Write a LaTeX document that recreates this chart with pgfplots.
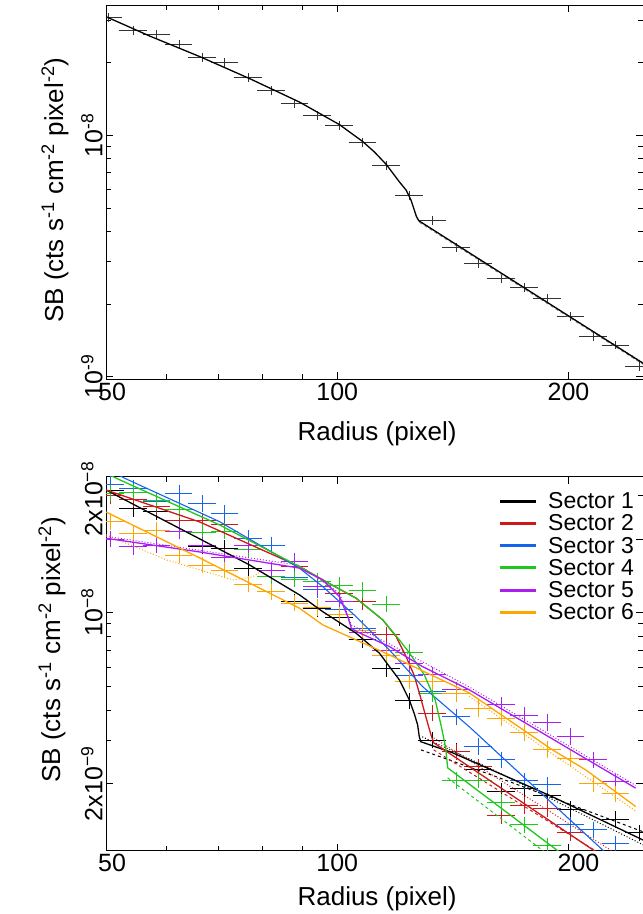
\documentclass[border=0pt]{standalone}
\usepackage{fontspec}
\setmainfont{Liberation Sans}
\usepackage{pgfplots}
\pgfplotsset{compat=1.18}
\definecolor{sred}{RGB}{205,25,25}
\definecolor{sblue}{RGB}{20,100,240}
\definecolor{sgreen}{RGB}{30,200,30}
\definecolor{spurple}{RGB}{170,30,240}
\definecolor{sorange}{RGB}{255,165,0}
\newcommand{\labfont}{\fontsize{26bp}{31bp}\selectfont}
\pgfplotsset{
  sbaxis/.style={
    scale only axis, width=537bp, height=374bp,
    xmin=50, xmax=250,
    xtick={50,100,200},
    minor xtick={60,70,80,90},
    tick align=inside,
    major tick length=7bp, minor tick length=5bp,
    tick style={black, line width=0.8bp},
    axis line style={line width=1bp},
    xticklabel style={font=\fontsize{25bp}{30bp}\selectfont},
    yticklabel style={font=\fontsize{25bp}{30bp}\selectfont, rotate=90, anchor=south},
    xlabel={Radius (pixel)},
    ylabel={SB (cts s\textsuperscript{-1} cm\textsuperscript{-2} pixel\textsuperscript{-2})},
  },
  ebars/.style 2 args={only marks, mark=text, text mark={}, forget plot, color=#1,
    error bars/.cd, x dir=both, x fixed relative=0.036, y dir=both, y fixed relative=#2,
    error mark=-,
    error bar style={line width=0.8bp, color=#1, solid},
    error mark options={mark size=1.8bp, line width=0.8bp, color=#1, solid}},
}
\begin{document}
\begin{tikzpicture}
\useasboundingbox (0,0) rectangle (643bp,-914bp);
%================ TOP PANEL
\begin{loglogaxis}[sbaxis,
  at={(106bp,-5bp)}, anchor=north west,
  ymin=9.78e-10, ymax=3.47e-8,
  xticklabels={\hspace{12bp}50,100,200},
  ytick={1e-9,1e-8},
  yticklabels={10\textsuperscript{-9},10\textsuperscript{-8}},
  minor ytick={2e-9,3e-9,4e-9,5e-9,6e-9,7e-9,8e-9,9e-9,2e-8,3e-8},
  every axis x label/.style={at={(axis description cs:0.5047,-0.1631)}, anchor=base, font=\labfont},
  every axis y label/.style={at={(axis description cs:-0.0801,0.505)}, rotate=90, anchor=base, font=\labfont},
]
\addplot[ebars={black!80}{0.025}] coordinates {
(50.35,3.07e-8) (54.26,2.731e-8) (58.18,2.628e-8) (62.21,2.382e-8)
(66.77,2.104e-8) (71.38,1.999e-8) (76.52,1.739e-8) (82.08,1.530e-8)
(87.99,1.354e-8) (94.17,1.206e-8) (100.67,1.103e-8) (107.94,9.32e-9)
(115.75,7.53e-9) (124.10,5.66e-9) (132.8,4.43e-9) (142.7,3.43e-9)
(152.5,2.95e-9) (163.6,2.556e-9) (175.0,2.337e-9) (187.6,2.113e-9)
(201.3,1.772e-9) (215.2,1.474e-9) (230.3,1.353e-9) (247.4,1.107e-9)};
\addplot[gray, dashed, line width=0.8bp, forget plot] coordinates {
(127.9,4.36e-9) (250,1.125e-9)};
\addplot[gray, dotted, line width=0.8bp, forget plot] coordinates {
(127.9,4.40e-9) (250,1.145e-9)};
\addplot[black, line width=1.3bp, forget plot] coordinates {
(50,3.105e-8) (57.03,2.579e-8) (66.23,2.121e-8) (76.91,1.719e-8)
(89.31,1.374e-8) (100.67,1.108e-8) (107.92,9.43e-9) (111.8,8.53e-9)
(115.85,7.57e-9) (120.45,6.42e-9) (122.93,5.93e-9) (124.7,5.40e-9)
(125.97,4.90e-9) (126.8,4.60e-9) (127.67,4.43e-9) (250,1.137e-9)};
\end{loglogaxis}
%================ BOTTOM PANEL
\begin{loglogaxis}[sbaxis,
  at={(106bp,-476.7bp)}, anchor=north west,
  ymin=1.065e-9, ymax=3.59e-8,
  xticklabels={\hspace{12bp}50,100,\hspace{20bp}200},
  ytick={2e-9,1e-8,2e-8},
  yticklabels={2x10\textsuperscript{−9},10\textsuperscript{−8},\hspace{80bp}2x10\textsuperscript{−8}},
  minor ytick={3e-9,4e-9,5e-9,6e-9,7e-9,8e-9,9e-9,3e-8},
  every axis x label/.style={at={(axis description cs:0.5047,-0.147)}, anchor=base, font=\labfont},
  every axis y label/.style={at={(axis description cs:-0.0857,0.537)}, rotate=90, anchor=base, font=\labfont},
  legend image code/.code={\draw[#1, line width=3bp] (0bp,0bp) -- (36bp,0bp);},
  legend cell align=left,
  legend style={draw=none, fill=none, at={(axis description cs:0.987,0.963)}, anchor=north east,
    font=\fontsize{23bp}{23bp}\selectfont, inner sep=0pt, row sep=0.6bp,
    /tikz/every odd column/.append style={column sep=8.3bp}},
]
% ---- data with error bars
\addplot[ebars={black}{0.06}] coordinates {
(50.6,3.17e-8) (54.26,2.67e-8) (58.18,2.58e-8) (62.21,2.39e-8) (66.77,1.87e-8)
(71.38,1.83e-8) (76.52,1.51e-8) (82.08,1.40e-8) (87.99,1.11e-8) (94.17,1.04e-8)
(100.67,9.54e-9) (107.94,7.74e-9) (115.75,5.93e-9) (124.10,4.36e-9) (132.8,3.02e-9)
(142.7,2.71e-9) (152.5,2.28e-9) (163.6,1.86e-9) (175.0,1.91e-9) (187.6,1.79e-9)
(201.3,1.57e-9) (215.2,1.30e-9) (230.3,1.43e-9) (247.4,1.26e-9)};
\addplot[ebars={sred}{0.06}] coordinates {
(50.6,3.0e-8) (54.26,2.91e-8) (58.18,2.71e-8) (62.21,2.39e-8) (66.77,2.37e-8)
(71.38,2.30e-8) (76.52,1.89e-8) (82.08,1.89e-8) (87.99,1.54e-8) (94.17,1.28e-8)
(100.67,1.20e-8) (107.94,1.11e-8) (115.75,8.11e-9) (124.10,6.22e-9) (132.8,3.89e-9)
(142.7,2.70e-9) (152.5,2.35e-9) (163.6,1.48e-9) (175.0,1.63e-9) (187.6,1.59e-9)
(201.3,1.26e-9)};
\addplot[ebars={sblue}{0.06}] coordinates {
(50.6,3.35e-8) (54.26,3.22e-8) (58.18,2.84e-8) (62.21,3.07e-8) (66.77,2.80e-8)
(71.38,2.545e-8) (76.52,2.01e-8) (82.08,1.89e-8) (87.99,1.39e-8) (94.17,1.24e-8)
(100.67,1.03e-8) (107.94,8.66e-9) (115.75,7.04e-9) (124.10,5.52e-9) (132.8,4.75e-9)
(142.7,3.76e-9) (152.5,2.84e-9) (163.6,2.51e-9) (175.0,2.06e-9) (187.6,1.98e-9)
(201.3,1.36e-9) (215.2,1.30e-9) (230.3,1.14e-9)};
\addplot[ebars={sgreen}{0.06}] coordinates {
(50.6,3.08e-8) (54.26,3.11e-8) (58.18,2.88e-8) (62.21,2.63e-8) (66.77,2.125e-8)
(71.38,2.156e-8) (76.52,1.82e-8) (82.08,1.40e-8) (87.99,1.373e-8) (94.17,1.347e-8)
(100.67,1.297e-8) (107.94,1.238e-8) (115.75,1.085e-8) (124.10,6.91e-9) (132.8,4.69e-9)
(142.7,2.065e-9) (152.5,2.07e-9) (163.6,1.68e-9) (175.0,1.36e-9) (187.6,1.116e-9)};
\addplot[ebars={spurple}{0.06}] coordinates {
(50.6,2.0e-8) (54.26,1.863e-8) (58.18,1.89e-8) (62.21,2.156e-8) (66.77,1.89e-8)
(71.38,1.68e-8) (76.52,1.89e-8) (82.08,1.494e-8) (87.99,1.626e-8) (94.17,1.277e-8)
(100.67,1.109e-8) (107.94,8.30e-9) (115.75,7.04e-9) (124.10,6.22e-9) (132.8,5.57e-9)
(142.7,4.84e-9) (152.5,4.07e-9) (163.6,4.20e-9) (175.0,3.82e-9) (187.6,3.56e-9)
(201.3,3.12e-9) (215.2,2.505e-9) (230.3,2.042e-9)};
\addplot[ebars={sorange}{0.06}] coordinates {
(50.6,2.351e-8) (54.26,2.109e-8) (58.18,2.176e-8) (62.21,1.72e-8) (66.77,1.565e-8)
(71.38,1.494e-8) (76.52,1.31e-8) (82.08,1.218e-8) (87.99,1.095e-8) (94.17,1.05e-8)
(100.67,9.79e-9) (107.94,8.50e-9) (115.75,6.66e-9) (124.10,5.26e-9) (132.8,5.24e-9)
(142.7,4.69e-9) (152.5,4.07e-9) (163.6,3.71e-9) (175.0,3.24e-9) (187.6,2.764e-9)
(201.3,2.544e-9) (215.2,2.0e-9) (230.3,1.82e-9)};
% ---- dashed / dotted model variants
\addplot[black, dashed, line width=1bp, forget plot] coordinates {(128.5,2.75e-9) (162.5,2.115e-9) (250,1.273e-9)};
\addplot[black, dotted, line width=1bp, forget plot] coordinates {(129.0,3.11e-9) (162.5,2.216e-9) (250,1.126e-9)};
\addplot[sred, dashed, line width=1bp, forget plot] coordinates {(133.5,2.75e-9) (212.6,1.106e-9) (230,9.47e-10)};
\addplot[sred, dotted, line width=1bp, forget plot] coordinates {(133.5,3.08e-9) (219.1,1.148e-9) (235,9.98e-10)};
\addplot[sgreen, dashed, line width=1bp, forget plot] coordinates {(139.2,2.115e-9) (186.7,1.045e-9) (200,8.85e-10)};
\addplot[spurple, dotted, line width=1bp, forget plot] coordinates {(50,2.05e-8) (89.31,1.56e-8) (100.67,1.20e-8) (104.3,8.9e-9) (116.9,7.45e-9) (148.5,4.97e-9) (244.5,1.97e-9)};
\addplot[sorange, dotted, line width=1bp, forget plot] coordinates {(50,2.08e-8) (59.95,1.641e-8) (73.2,1.36e-8) (77.6,1.40e-8) (79.5,1.47e-8)};
\addplot[sorange, dotted, line width=1bp, forget plot] coordinates {(148.5,4.55e-9) (190.5,2.65e-9) (244.5,1.55e-9)};
% ---- solid models
\addplot[black, line width=1.3bp, forget plot] coordinates {
(50,3.17e-8) (57.03,2.553e-8) (66.23,2.0e-8) (76.91,1.565e-8) (89.31,1.181e-8)
(95.74,1.009e-8) (105.8,8.24e-9) (113.45,6.83e-9) (120.45,5.31e-9) (124.10,4.40e-9)
(125.97,3.86e-9) (127.22,3.48e-9) (127.86,3.11e-9) (128.44,2.97e-9) (141.1,2.68e-9)
(190.3,1.774e-9) (250,1.178e-9)};
\addplot[sred, line width=1.3bp, forget plot] coordinates {
(50,3.17e-8) (66.23,2.345e-8) (89.31,1.541e-8) (95.74,1.360e-8) (105.8,1.145e-8)
(114.6,9.34e-9) (119.3,7.98e-9) (122.9,6.61e-9) (125.97,5.52e-9) (127.86,4.70e-9)
(130.5,3.72e-9) (132.4,3.17e-9) (133.5,2.94e-9) (230,9.33e-10)};
\addplot[sblue, line width=1.1bp, forget plot] coordinates {
(50,3.88e-8) (52.9,3.537e-8) (70.31,2.351e-8) (89.31,1.518e-8) (95.74,1.277e-8)
(105.8,9.63e-9) (116.9,7.04e-9) (129.1,4.99e-9) (148.5,3.42e-9) (223.5,1.045e-9)
(240,8.49e-10)};
\addplot[sgreen, line width=1.3bp, forget plot] coordinates {
(50,3.71e-8) (51.83,3.513e-8) (70.31,2.28e-8) (89.31,1.541e-8) (95.74,1.360e-8)
(105.8,1.145e-8) (114.6,9.34e-9) (120.45,7.74e-9) (124.10,6.85e-9) (129.8,5.57e-9)
(134.1,4.40e-9) (136.6,3.42e-9) (138.4,2.80e-9) (139.2,2.323e-9) (194.4,1.055e-9)
(210,8.79e-10)};
\addplot[spurple, line width=1.3bp, forget plot] coordinates {
(50,2.012e-8) (66.23,1.769e-8) (89.31,1.52e-8) (95.74,1.360e-8) (100.67,1.162e-8)
(103.2,9.63e-9) (104.3,8.64e-9) (106.2,8.34e-9) (116.9,7.27e-9) (129.1,6.02e-9)
(148.5,4.84e-9) (244.5,1.92e-9)};
\addplot[sorange, line width=1.3bp, forget plot] coordinates {
(50,2.576e-8) (66.23,1.672e-8) (89.31,1.042e-8) (95.74,8.91e-9) (105.8,7.74e-9)
(116.9,6.72e-9) (129.1,5.78e-9) (148.5,4.70e-9) (190.5,2.753e-9) (210.5,2.28e-9)
(244.5,1.615e-9)};
% ---- legend
\addlegendimage{black}\addlegendentry{Sector 1}
\addlegendimage{sred}\addlegendentry{Sector 2}
\addlegendimage{sblue}\addlegendentry{Sector 3}
\addlegendimage{sgreen}\addlegendentry{Sector 4}
\addlegendimage{spurple}\addlegendentry{Sector 5}
\addlegendimage{sorange}\addlegendentry{Sector 6}
\end{loglogaxis}
\end{tikzpicture}
\end{document}
